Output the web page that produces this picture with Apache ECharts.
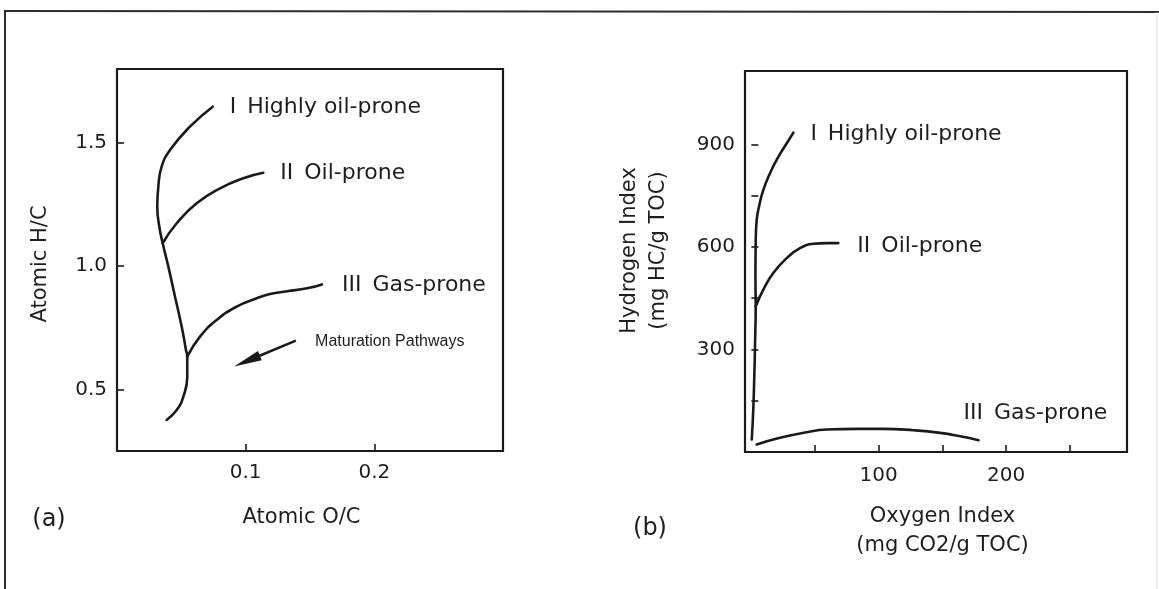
<!DOCTYPE html>
<html>
<head>
<meta charset="utf-8">
<script src="https://cdn.jsdelivr.net/npm/echarts@6/dist/echarts.min.js"></script>
<style>
  html, body { margin: 0; padding: 0; background: #ffffff; }
  #chart { width: 1159px; height: 589px; }
</style>
</head>
<body>
<div id="chart"></div>
<script>
// ---- (a) Van Krevelen diagram: atomic H/C against atomic O/C ----
// Type I pathway, traced from the mature end up to the immature tip
const vkTypeI = [
  [0.0386, 0.376], [0.0464, 0.416], [0.0515, 0.470], [0.0546, 0.551],
  [0.0546, 0.633], [0.0536, 0.660], [0.0503, 0.754], [0.0451, 0.876],
  [0.0399, 0.998], [0.0355, 1.093], [0.0329, 1.160], [0.0313, 1.241],
  [0.0321, 1.322], [0.0347, 1.404], [0.0412, 1.471], [0.0567, 1.566],
  [0.0744, 1.647]
];
// Type II branches off the type I trend
const vkTypeII = [
  [0.0355, 1.093], [0.0464, 1.174], [0.0619, 1.255], [0.0801, 1.316],
  [0.0982, 1.357], [0.1137, 1.379]
];
// Type III branches off lower down
const vkTypeIII = [
  [0.0546, 0.633], [0.0645, 0.714], [0.0775, 0.782], [0.0930, 0.836],
  [0.1086, 0.870], [0.1189, 0.887], [0.1321, 0.898], [0.1477, 0.910],
  [0.1593, 0.926]
];
// Direction of increasing maturity
const vkArrow = [[0.139, 0.698], [0.101, 0.615]];
const vkXTicks = [0.1, 0.2];
const vkYTicks = [0.5, 1.0, 1.5];

// ---- (b) Pyrolysis plot: hydrogen index against oxygen index ----
const pyTypeI = [
  [0.3, 36.5], [1.5, 124], [2.3, 221.5], [2.9, 319], [3.4, 426],
  [3.2, 513.7], [3.4, 611], [4.2, 679], [6.0, 718], [9.4, 767],
  [14.65, 816], [21.2, 864], [27.8, 903.5], [33, 934.5]
];
const pyTypeII = [
  [3.4, 426], [9.4, 475], [17.2, 523.7], [27.8, 567.5], [38.2, 596.7],
  [48.7, 609.3], [59.2, 611.3], [68.3, 611.3]
];
const pyTypeIII = [
  [4.2, 22], [22.5, 41.5], [43.5, 58], [59.2, 65.7], [82.8, 67.8],
  [103.7, 67.8], [127.3, 63.7], [148.3, 56], [164, 46], [178.4, 34.5]
];
const pyXTicks = [50, 100, 150, 200, 250];
const pyXLabels = [100, 200];
const pyYTicks = [150, 300, 450, 600, 750, 900];
const pyYLabels = [300, 600, 900];

const typeNames = ['I\u2002Highly oil-prone', 'II\u2002Oil-prone', 'III\u2002Gas-prone'];

const INK = '#1a1a1a';
const TEXT = '#1e1e1e';
const FONT = '"DejaVu Sans", sans-serif';

function valueAxis(gridIndex, min, max, ticks, labels, fmt, margin, extra) {
  return Object.assign({
    type: 'value',
    gridIndex: gridIndex,
    min: min,
    max: max,
    axisLine: { show: false },
    splitLine: { show: false },
    axisTick: {
      show: true, inside: true, length: 7, customValues: ticks,
      lineStyle: { color: INK, width: 1.6 }
    },
    axisLabel: {
      customValues: labels, formatter: fmt, color: TEXT,
      fontSize: 20, fontFamily: FONT, margin: margin
    }
  }, extra);
}

function nameStyle(padding) {
  return { color: TEXT, fontSize: 21, fontFamily: FONT, lineHeight: 29, padding: padding };
}

function curve(name, data, axisIndex, labelText, dist, offset) {
  return {
    type: 'line',
    name: name,
    xAxisIndex: axisIndex,
    yAxisIndex: axisIndex,
    data: data,
    smooth: 0.5,
    symbol: 'none',
    silent: true,
    lineStyle: { color: INK, width: 2.6, cap: 'round', join: 'round' },
    endLabel: {
      show: true,
      formatter: labelText,
      distance: dist,
      offset: offset,
      color: TEXT,
      fontSize: 22,
      fontFamily: FONT
    }
  };
}

const chart = echarts.init(document.getElementById('chart'), null, { renderer: 'canvas' });

chart.setOption({
  animation: false,
  backgroundColor: '#ffffff',
  grid: [
    { left: 117, top: 69, width: 386, height: 382, show: true,
      borderColor: INK, borderWidth: 2.2, backgroundColor: 'transparent' },
    { left: 745, top: 71, width: 382, height: 381, show: true,
      borderColor: INK, borderWidth: 2.2, backgroundColor: 'transparent' }
  ],
  xAxis: [
    valueAxis(0, 0, 0.3, vkXTicks, vkXTicks, v => v.toFixed(1), 12, {
      name: 'Atomic O/C', nameLocation: 'middle', nameGap: 52,
      nameTextStyle: nameStyle([0, 17, 0, 0])
    }),
    valueAxis(1, -5, 295, pyXTicks, pyXLabels, v => String(v), 14, {
      name: 'Oxygen Index\n(mg CO2/g TOC)', nameLocation: 'middle', nameGap: 50,
      nameTextStyle: nameStyle([0, 0, 0, 13])
    })
  ],
  yAxis: [
    valueAxis(0, 0.25, 1.8, vkYTicks, vkYTicks, v => v.toFixed(1), 10, {
      name: 'Atomic H/C', nameLocation: 'middle', nameRotate: 90, nameGap: 62,
      nameTextStyle: nameStyle([0, 8, 0, 0])
    }),
    valueAxis(1, 0, 1115, pyYTicks, pyYLabels, v => String(v), 10, {
      name: 'Hydrogen Index\n(mg HC/g TOC)', nameLocation: 'middle', nameRotate: 90, nameGap: 72,
      nameTextStyle: nameStyle([0, 0, 0, 22])
    })
  ],
  series: [
    curve('Type I', vkTypeI, 0, typeNames[0], 17, [0, 1]),
    curve('Type II', vkTypeII, 0, typeNames[1], 17, [0, 1]),
    curve('Type III', vkTypeIII, 0, typeNames[2], 20, [0, 1]),
    {
      type: 'line',
      name: 'Maturation pathways',
      xAxisIndex: 0,
      yAxisIndex: 0,
      data: [],
      silent: true,
      markLine: {
        silent: true,
        animation: false,
        label: { show: false },
        lineStyle: { color: INK, width: 2.6, type: 'solid' },
        data: [[
          { coord: vkArrow[0], symbol: 'none' },
          { coord: vkArrow[1], symbol: 'triangle', symbolSize: [10, 28] }
        ]]
      },
      markPoint: {
        silent: true,
        animation: false,
        data: [{
          coord: [0.212, 0.6935],
          symbol: 'rect',
          symbolSize: 1,
          itemStyle: { color: 'rgba(0,0,0,0)' },
          label: {
            show: true, position: 'inside', formatter: 'Maturation Pathways',
            color: TEXT, fontSize: 16, fontFamily: '"Liberation Sans", Arial, sans-serif'
          }
        }]
      }
    },
    curve('Type I', pyTypeI, 1, typeNames[0], 17, [0, 2]),
    curve('Type II', pyTypeII, 1, typeNames[1], 19, [0, 3]),
    curve('Type III', pyTypeIII, 1, typeNames[2], 5, [-20, -27])
  ],
  graphic: [
    { type: 'line', silent: true, shape: { x1: 5, y1: 11, x2: 1159, y2: 12 },
      style: { stroke: '#2e2e2e', lineWidth: 2 } },
    { type: 'line', silent: true, shape: { x1: 5, y1: 10, x2: 5, y2: 589 },
      style: { stroke: '#2e2e2e', lineWidth: 2 } },
    { type: 'line', silent: true, shape: { x1: 1157, y1: 12, x2: 1157, y2: 589 },
      style: { stroke: '#dcdcdc', lineWidth: 1 } },
    { type: 'text', silent: true, x: 49, y: 520,
      style: { text: '(a)', fill: TEXT, font: '24px "DejaVu Sans"', align: 'center', verticalAlign: 'middle' } },
    { type: 'text', silent: true, x: 650, y: 529,
      style: { text: '(b)', fill: TEXT, font: '24px "DejaVu Sans"', align: 'center', verticalAlign: 'middle' } }
  ]
});
</script>
</body>
</html>
